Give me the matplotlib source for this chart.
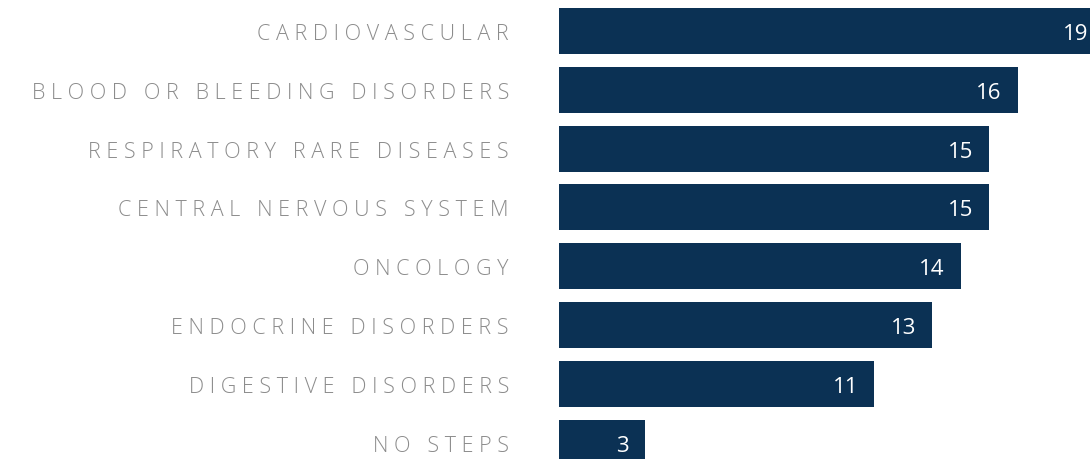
import matplotlib.pyplot as plt
import numpy as np

# categories top to bottom and their counts
categories = ['CARDIOVASCULAR', 'BLOOD OR BLEEDING DISORDERS', 'RESPIRATORY RARE DISEASES',
              'CENTRAL NERVOUS SYSTEM', 'ONCOLOGY', 'ENDOCRINE DISORDERS',
              'DIGESTIVE DISORDERS', 'NO STEPS']
counts = [19, 16, 15, 15, 14, 13, 11, 3]

bar_color = '#0b3154'
label_color = '#8c8c8c'


def spaced(text):
    # fake letter spacing: one space between letters, three between words
    return '   '.join(' '.join(word) for word in text.split(' '))


fig = plt.figure(figsize=(10.9, 4.6), dpi=100)
ax = fig.add_axes([559 / 1090, 0, 531 / 1090, 1])

y = np.arange(len(categories))
ax.barh(y, counts, height=0.78, color=bar_color)
ax.set_xlim(0, 531 / 28.68)
ax.set_ylim(428 / 58.8, -32 / 58.8)

for yi, v in zip(y, counts):
    ax.annotate(str(v), xy=(v, yi), xytext=(-11.5, 0), textcoords='offset points',
                ha='right', va='center_baseline', color='white', fontsize=16,
                family=['Open Sans', 'DejaVu Sans'], annotation_clip=False)

for yi, cat in zip(y, categories):
    ax.text(-50 / 28.68, yi, spaced(cat), ha='right', va='center_baseline', color=label_color,
            fontsize=15.5, family=['Open Sans', 'DejaVu Sans'], fontweight='light',
            clip_on=False)

ax.axis('off')
fig.savefig('out.png', dpi=100)
